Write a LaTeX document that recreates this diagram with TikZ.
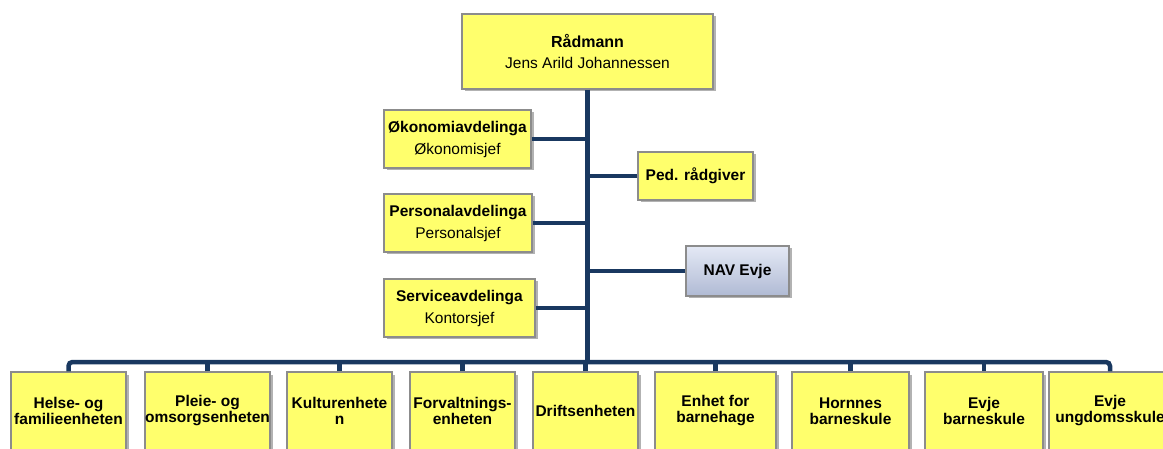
\documentclass[tikz,border=0pt]{standalone}
\usepackage{fontspec}
\setmainfont{Liberation Sans}
\usepackage{tikz}
\usetikzlibrary{shadows}

\definecolor{boxyellow}{RGB}{255,255,108}
\definecolor{boxline}{RGB}{140,140,140}
\definecolor{linknavy}{RGB}{25,56,96}
\definecolor{navtop}{RGB}{228,233,245}
\definecolor{navbottom}{RGB}{176,186,212}

\begin{document}
\begin{tikzpicture}[x=1pt,y=-1pt,
  unit/.style={draw=boxline,line width=1.1pt,fill=boxyellow,align=center,inner sep=0pt,
    drop shadow={shadow xshift=2.5pt,shadow yshift=-2.5pt,opacity=0.3,fill=black}},
  staff/.style={unit,font=\fontsize{15.5}{22}\selectfont},
  lower/.style={unit,font=\bfseries\fontsize{15.5}{16}\selectfont,minimum height=78pt},
  link/.style={draw=linknavy,line width=4.5pt}]
\useasboundingbox (0,0) rectangle (1163,449);
\clip (0,0) rectangle (1163,449);

\node[staff,minimum width=251pt,minimum height=75pt,font=\fontsize{15.5}{21}\selectfont] (boss) at (587.5,51.5)
  {\textbf{\fontsize{16}{21}\selectfont Rådmann}\\Jens Arild Johannessen};

\node[staff,minimum width=147pt,minimum height=58pt] (oko) at (457.5,139)
  {\textbf{Økonomiavdelinga}\\Økonomisjef};
\node[staff,minimum width=148pt,minimum height=58pt] (pers) at (458,223)
  {\textbf{Personalavdelinga}\\Personalsjef};
\node[staff,minimum width=151pt,minimum height=58pt] (serv) at (459.5,308)
  {\textbf{Serviceavdelinga}\\Kontorsjef};

\node[staff,minimum width=115pt,minimum height=48pt] (ped) at (695.5,176)
  {\textbf{Ped. rådgiver}};
\node[staff,minimum width=103pt,minimum height=50pt,top color=navtop,bottom color=navbottom] (nav) at (737.5,271)
  {\textbf{NAV Evje}};

\foreach \x/\w/\t [count=\i] in {
  68.5/115/{Helse- og\\familieenheten},
  207.5/125/{Pleie- og\\omsorgsenheten},
  339.5/105/{Kulturenhete\\n},
  462.5/105/{Forvaltnings-\\enheten},
  585.5/105/{Driftsenheten},
  715.5/121/{Enhet for\\barnehage},
  850.5/117/{Hornnes\\barneskule},
  984/118/{Evje\\barneskule},
  1110/122/{Evje\\ungdomsskule}}
  \node[lower,minimum width=\w pt] (u\i) at (\x,411) {\t};

\coordinate (bus) at (587.5,362);
\draw[link] (boss.south) -- (bus);
\draw[link,rounded corners=4pt] (u1.north) |- (bus) -| (u9.north);
\foreach \n in {u2,u3,u4,u5,u6,u7,u8}
  \draw[link] (\n.north) -- (\n.north |- bus);

\draw[link] (oko.east) -- (oko.east -| bus);
\draw[link] (pers.east) -- (pers.east -| bus);
\draw[link] (serv.east) -- (serv.east -| bus);
\draw[link] (ped.west) -- (ped.west -| bus);
\draw[link] (nav.west) -- (nav.west -| bus);
\end{tikzpicture}
\end{document}
